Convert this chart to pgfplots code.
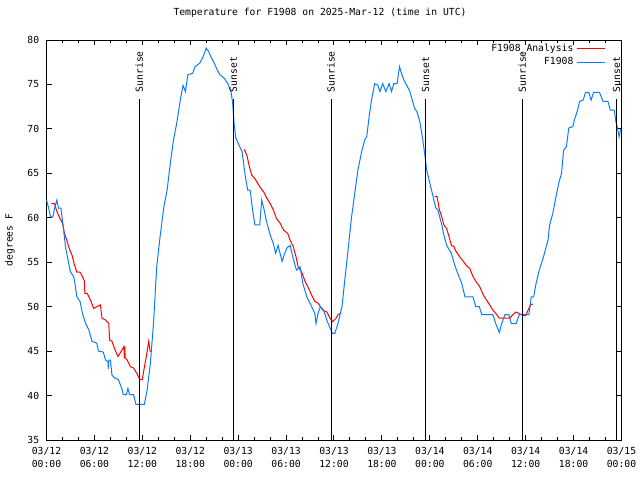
\documentclass[border=0pt]{standalone}
\usepackage{fontspec}
\setmainfont{DejaVu Sans Mono}
\usepackage{pgfplots}
\pgfplotsset{compat=1.18}
\definecolor{tblue}{RGB}{10,125,255}
\newcommand{\sfont}{\fontsize{7.3}{8}\selectfont}
\pgfplotsset{legend image code/.code={\draw[#1] (0pt,0pt) -- (21pt,0pt);}}
\begin{document}
\begin{tikzpicture}
\begin{axis}[
  scale only axis, width=431.25pt, height=300pt,
  xmin=0, xmax=72, ymin=35, ymax=80,
  xtick={0,6,...,72}, minor x tick num=2,
  ytick={35,40,...,80},
  xticklabels={{03/12\\00:00},{03/12\\06:00},{03/12\\12:00},{03/12\\18:00},{03/13\\00:00},{03/13\\06:00},{03/13\\12:00},{03/13\\18:00},{03/14\\00:00},{03/14\\06:00},{03/14\\12:00},{03/14\\18:00},{03/15\\00:00}},
  xticklabel style={align=center, font=\fontsize{7.3}{9.4}\selectfont, yshift=-2pt},
  yticklabel style={font=\sfont, xshift=-2pt},
  /pgf/number format/assume math mode=true,
  tick align=inside, major tick length=4pt, minor tick length=2.3pt,
  tick style={black, line width=0.75pt},
  axis line style={line width=0.75pt},
  title={Temperature for F1908 on 2025-Mar-12 (time in UTC)},
  title style={font=\sfont, at={(axis description cs:0.4757,1)}, anchor=base, yshift=12.4pt},
  ylabel={degrees F},
  ylabel style={font=\sfont, at={(axis description cs:-0.0635,0.5)}, anchor=center},
  legend plot pos=right,
  legend cell align=right,
  legend style={at={(rel axis cs:0.98,1.005)}, anchor=north east, draw=none, fill=none, font=\sfont,
    nodes={inner sep=2.5pt, text height=5.5pt, text depth=1.5pt}, row sep=-2pt},
  unbounded coords=jump,
]
\addplot[red, line width=0.75pt] coordinates {
(0.6,61.6) (1.0,61.6) (1.3,60.7) (1.7,59.9) (2.0,59.4) (2.25,58.25) (2.6,57.3) (2.9,56.4) (3.2,55.8) (3.5,54.7) (3.8,53.9) (4.2,53.9) (4.5,53.4) (4.75,52.9) (4.8,51.5) (5.1,51.5) (5.5,50.75) (5.9,49.8) (6.3,50.0) (6.75,50.2) (6.95,48.7) (7.4,48.5) (7.8,48.1) (7.9,46.25) (8.2,46.1) (8.6,45.1) (8.95,44.4) (9.3,44.9) (9.7,45.5) (9.75,44.2) (9.8,45.5) (9.85,44.2) (10.1,44.0) (10.5,43.25) (10.9,43.1) (11.3,42.5) (11.7,41.8) (12.0,41.8) (12.2,42.9) (12.5,44.4) (12.8,46.1) (13.0,44.9)
(18,nan)
(24.75,67.7) (25.1,67.0) (25.4,65.75) (25.7,64.8) (26.1,64.4) (26.7,63.5) (27.2,62.9) (27.6,62.2) (28.0,61.6) (28.4,60.9) (28.8,59.9) (29.25,59.4) (29.7,58.6) (30.2,58.25) (30.5,57.5) (30.9,56.75) (31.25,55.6) (31.5,54.5) (31.95,53.9) (32.4,52.8) (32.8,52.1) (33.2,51.3) (33.6,50.6) (34.0,50.4) (34.6,49.6) (35.1,49.4) (35.5,48.7) (35.8,48.3) (36.25,48.7) (36.5,49.1) (36.8,49.25)
(42,nan)
(48.6,62.4) (48.9,62.4) (49.2,60.9) (49.5,60.1) (49.75,59.2) (50.1,58.8) (50.4,57.9) (50.7,56.9) (51.0,56.75) (51.3,56.2) (51.75,55.6) (52.2,55.1) (52.6,54.6) (53.0,54.3) (53.4,53.4) (53.8,52.8) (54.25,52.25) (54.7,51.3) (55.1,50.75) (55.5,50.2) (55.9,49.6) (56.25,49.25) (56.7,48.7) (57.4,48.7) (58.0,48.7) (58.4,49.1) (58.8,49.4) (59.25,49.2) (59.7,49.0) (60.0,49.0) (60.3,49.6) (60.6,50.2) (60.9,50.3)
};
\addlegendentry{F1908\_Analysis}
\addplot[tblue, line width=0.75pt] coordinates {
(0.0,62.0) (0.3,61.0) (0.5,60.1) (0.8,60.1) (1.0,61.0) (1.3,62.0) (1.5,61.1) (1.8,61.1) (2.1,59.0) (2.4,56.6) (2.7,55.25) (3.0,53.9) (3.4,53.4) (3.6,52.4) (3.8,51.1) (4.2,50.6) (4.5,49.25) (4.9,48.1) (5.3,47.4) (5.7,46.1) (6.3,45.9) (6.5,45.0) (7.1,44.9) (7.4,44.0) (7.7,43.8) (7.75,43.0) (7.8,44.0) (8.0,44.0) (8.2,42.3) (8.5,42.0) (9.0,41.8) (9.5,40.6) (9.6,40.1) (10.0,40.1) (10.2,40.8) (10.4,40.1) (10.9,40.1) (11.2,39.0) (12.25,39.0) (12.6,40.6) (13.0,43.6) (13.4,48.1) (13.8,54.5) (14.2,57.7) (14.7,61.25) (15.1,63.1) (15.5,66.1) (15.9,68.75) (16.3,70.6) (16.75,73.25) (17.1,74.9) (17.4,74.2) (17.7,76.1) (18.3,76.25) (18.6,77.0) (19.2,77.4) (19.6,78.1) (20.0,79.1) (20.3,78.7) (20.6,78.1) (21.0,77.4) (21.4,76.6) (21.7,76.1) (22.25,75.7) (22.7,75.1) (23.1,74.2) (23.3,73.0) (23.5,70.5) (23.7,69.0) (24.0,68.4) (24.5,67.4) (24.9,64.6) (25.2,63.1) (25.5,63.1) (25.8,60.9) (26.1,59.2) (26.7,59.2) (26.95,62.0) (27.2,61.1) (27.6,59.4) (28.0,58.1) (28.4,57.1) (28.7,56.0) (29.0,56.9) (29.5,55.1) (29.75,55.8) (30.1,56.6) (30.5,56.9) (30.9,55.4) (31.3,54.1) (31.75,54.5) (32.1,52.6) (32.6,51.1) (33.2,50.0) (33.6,49.25) (33.75,48.1) (34.0,49.25) (34.3,50.0) (34.7,49.6) (35.1,48.5) (35.5,47.6) (35.8,47.0) (36.1,47.0) (36.5,48.1) (37.0,50.0) (37.4,53.4) (37.8,56.7) (38.2,60.1) (38.6,62.75) (39.0,65.4) (39.5,67.6) (39.9,68.9) (40.1,69.1) (40.4,71.4) (40.7,73.25) (41.1,75.1) (41.5,74.9) (41.75,74.2) (42.1,75.1) (42.5,74.2) (42.9,75.1) (43.2,74.2) (43.5,75.1) (43.9,75.1) (44.2,77.0) (44.5,76.1) (44.75,75.5) (45.2,74.75) (45.5,74.2) (45.8,73.25) (46.1,72.3) (46.4,71.9) (46.75,70.8) (47.1,68.9) (47.4,66.9) (47.6,65.4) (48.0,63.9) (48.4,62.4) (48.75,61.1) (49.0,60.9) (49.5,59.2) (49.75,58.1) (50.1,56.9) (50.7,56.0) (51.1,54.7) (51.5,53.75) (52.0,52.6) (52.4,51.1) (53.4,51.1) (53.75,50.0) (54.2,50.0) (54.5,49.1) (55.9,49.1) (56.25,48.1) (56.7,47.1) (57.0,48.1) (57.4,49.1) (57.9,49.1) (58.2,48.1) (58.8,48.1) (59.2,49.1) (60.4,49.1) (60.7,51.1) (61.0,51.1) (61.3,52.6) (61.7,54.1) (62.2,55.5) (62.8,57.5) (63.0,59.2) (63.4,60.5) (63.8,62.4) (64.2,64.1) (64.5,65.0) (64.75,67.6) (65.1,68.0) (65.4,70.1) (65.9,70.25) (66.1,71.0) (66.5,72.1) (66.75,73.1) (67.2,73.25) (67.5,74.1) (67.9,74.1) (68.2,73.25) (68.5,74.1) (69.25,74.1) (69.7,73.1) (70.3,73.1) (70.6,72.1) (71.1,72.1) (71.3,70.8) (71.5,70.1) (71.7,69.1) (71.9,70.0)
};
\addlegendentry{F1908}
\addplot[black, line width=0.75pt, forget plot] coordinates {(11.62,35) (11.62,73.4)};
\addplot[black, line width=0.75pt, forget plot] coordinates {(23.39,35) (23.39,73.4)};
\addplot[black, line width=0.75pt, forget plot] coordinates {(35.63,35) (35.63,73.4)};
\addplot[black, line width=0.75pt, forget plot] coordinates {(47.48,35) (47.48,73.4)};
\addplot[black, line width=0.75pt, forget plot] coordinates {(59.56,35) (59.56,73.4)};
\addplot[black, line width=0.75pt, forget plot] coordinates {(71.40,35) (71.40,73.4)};
\node[rotate=90, anchor=west, inner sep=0pt, font=\sfont] at (axis cs:11.62,74.1) {Sunrise};
\node[rotate=90, anchor=west, inner sep=0pt, font=\sfont] at (axis cs:23.39,74.1) {Sunset};
\node[rotate=90, anchor=west, inner sep=0pt, font=\sfont] at (axis cs:35.63,74.1) {Sunrise};
\node[rotate=90, anchor=west, inner sep=0pt, font=\sfont] at (axis cs:47.48,74.1) {Sunset};
\node[rotate=90, anchor=west, inner sep=0pt, font=\sfont] at (axis cs:59.56,74.1) {Sunrise};
\node[rotate=90, anchor=west, inner sep=0pt, font=\sfont] at (axis cs:71.40,74.1) {Sunset};
\end{axis}
\pgfresetboundingbox
\path (current axis.south west) ++(-34.875pt,-30pt) rectangle ++(480pt,360pt);
\end{tikzpicture}
\end{document}
